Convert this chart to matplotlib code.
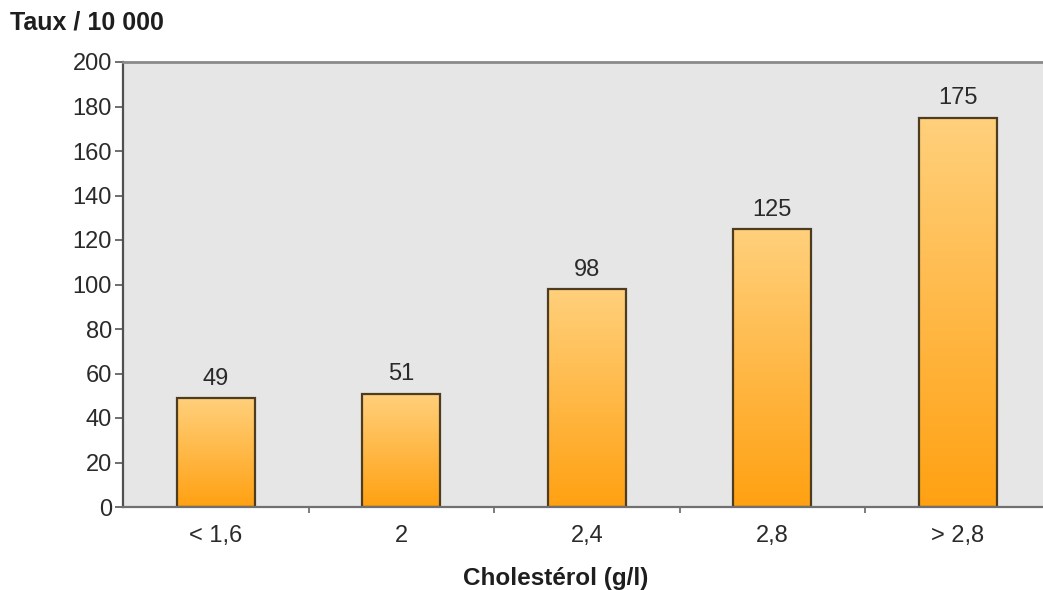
import numpy as np
import matplotlib
matplotlib.use("Agg")
import matplotlib.pyplot as plt
from matplotlib.colors import LinearSegmentedColormap
from matplotlib.ticker import FixedLocator

categories = ["< 1,6", "2", "2,4", "2,8", "> 2,8"]
values = [49, 51, 98, 125, 175]
y_ticks = [0, 20, 40, 60, 80, 100, 120, 140, 160, 180, 200]

plt.rcParams["font.family"] = ["Liberation Sans", "DejaVu Sans"]

fig = plt.figure(figsize=(10.43, 5.90), dpi=100)
ax = fig.add_axes([123 / 1043, 83 / 590, 920 / 1043, 445 / 590])
ax.set_facecolor("#E6E6E6")

x = np.arange(len(categories))
bar_w = 0.42
bars = ax.bar(x, values, width=bar_w, facecolor="none",
              edgecolor="#4E3C20", linewidth=1.6, zorder=3)

# vertical orange gradient inside each bar
grad_cmap = LinearSegmentedColormap.from_list("orange_grad", ["#FFA112", "#FFD07C"])
gradient = np.linspace(0, 1, 256).reshape(-1, 1)
for rect in bars:
    x0, y0 = rect.get_x(), rect.get_y()
    w, h = rect.get_width(), rect.get_height()
    im = ax.imshow(gradient, cmap=grad_cmap, aspect="auto", origin="lower",
                   extent=(x0, x0 + w, y0, y0 + h), zorder=2, interpolation="bicubic")
    im.set_clip_path(rect)

for xi, v in zip(x, values):
    ax.annotate(str(v), (xi, v), xytext=(0, 6), textcoords="offset points",
                ha="center", va="bottom", fontsize=17, color="#2A2A2A")

ax.set_xlim(-0.5, -0.5 + 920 / 185.5)
ax.set_ylim(0, 200)
ax.set_yticks(y_ticks)
ax.set_xticks(x)
ax.set_xticklabels(categories)
ax.xaxis.set_minor_locator(FixedLocator(x[:-1] + 0.5))
ax.tick_params(axis="x", which="major", length=0, pad=13, labelsize=17, labelcolor="#2A2A2A")
ax.tick_params(axis="x", which="minor", length=4, width=1.2, color="#666666", direction="out")
ax.tick_params(axis="y", which="major", length=6, width=1.2, color="#555555",
               labelsize=17, labelcolor="#2A2A2A", pad=2)

ax.spines["right"].set_visible(False)
ax.spines["left"].set_color("#505050")
ax.spines["left"].set_linewidth(1.6)
ax.spines["top"].set_color("#8A8A8A")
ax.spines["top"].set_linewidth(2.0)
ax.spines["bottom"].set_color("#707070")
ax.spines["bottom"].set_linewidth(1.6)
for s in ax.spines.values():
    s.set_zorder(4)

fig.text(10 / 1043, 1 - 22 / 590, "Taux / 10 000", fontsize=18, fontweight="bold",
         color="#1E1E1E", ha="left", va="center")
fig.text(556 / 1043, 1 - 578 / 590, "Cholestérol (g/l)", fontsize=17.5, fontweight="bold",
         color="#1E1E1E", ha="center", va="center")

fig.savefig("out.png", dpi=100)
